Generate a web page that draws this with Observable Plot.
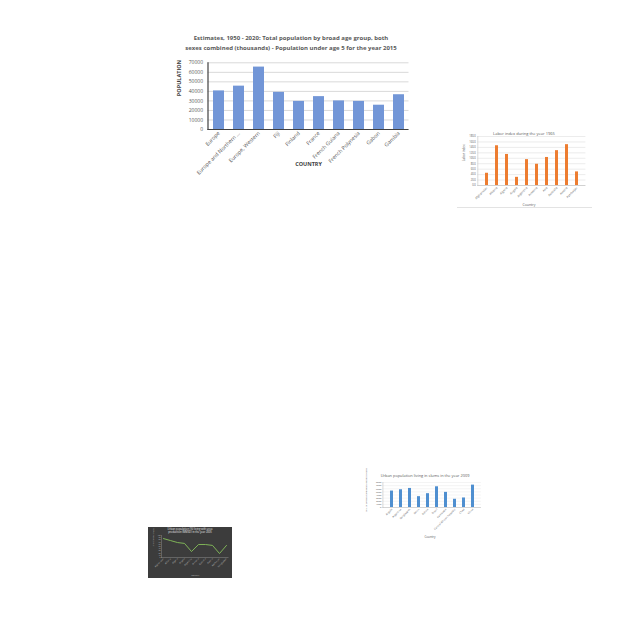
<!DOCTYPE html>
<html><head><meta charset="utf-8">
<script src="https://cdn.jsdelivr.net/npm/d3@7"></script>
<script src="https://cdn.jsdelivr.net/npm/@observablehq/plot@0.6"></script>
<style>
body{margin:0;width:640px;height:640px;background:#fff;position:relative;overflow:hidden;font-family:"Open Sans",sans-serif;}
.abs{position:absolute;}
.ttl{position:absolute;text-align:center;white-space:nowrap;transform:translateX(-50%);}
</style></head><body>
<script>
// ---- Main chart: population under age 5, 2015 ----
const popCountries = ["Europe","Europe and Northern ...","Europe, Western","Fiji","Finland","France","French Guiana","French Polynesia","Gabon","Gambia"];
const popValues = [40500,45500,65500,39000,29500,34500,30000,29500,25500,36500];
const popTicks = [0,10000,20000,30000,40000,50000,60000,70000];

// ---- Labor index 1965 ----
const laborCountries = ["Afghanistan","Albania","Algeria","Angola","Argentina","Armenia","Asia","Australia","Austria","Azerbaijan"];
const laborValues = [45,146,114,30,95,78,103,128,150,50];
const laborTicks = [0,20,40,60,80,100,120,140,160,180];

// ---- Urban population living in slums 2009 ----
const slumCountries = ["Angola","Argentina","Bangladesh","Benin","Bolivia","Brazil","Cambodia","Central African Republic","Chad","China"];
const slumValues = [5260,5680,6100,3470,4420,6630,4840,2630,3050,7160];
const slumTicks = [0,1000,2000,3000,4000,5000,6000,7000,8000];

// ---- Dark line chart ----
const darkCountries = ["Afghanistan","Albania","Algeria","Angola","Argentina","Armenia","Australia","Austria","Azerbaijan","Bangladesh"];
const darkValues = [86,77,68,64,27,59,59,55,18,55];
const darkTicks = [0,10,20,30,40,50,60,70,80,90,100];

function place(el, left, top, z) {
  const d = document.createElement("div");
  d.className = "abs";
  d.style.left = left + "px"; d.style.top = top + "px";
  if (z) d.style.zIndex = z;
  d.appendChild(el);
  document.body.appendChild(d);
  return d;
}
function title(lines, cx, top, size, weight, color, lh) {
  const d = document.createElement("div");
  d.className = "ttl";
  d.style.left = cx + "px"; d.style.top = top + "px";
  d.style.fontSize = size + "px"; d.style.fontWeight = weight; d.style.color = color;
  d.style.lineHeight = lh + "px"; d.style.zIndex = 5;
  d.innerHTML = lines.join("<br>");
  document.body.appendChild(d);
}

// Main chart
const popData = popCountries.map((c, i) => ({country: c, value: popValues[i]}));
const mainChart = Plot.plot({
  width: 250, height: 125,
  marginLeft: 37.5, marginRight: 11.5, marginTop: 7.3, marginBottom: 51,
  style: {fontFamily: "Open Sans", fontSize: "5px", color: "#595959", background: "transparent", overflow: "visible"},
  x: {domain: popCountries, paddingInner: 0.47, paddingOuter: 0.235, label: null},
  y: {domain: [0, 70000], label: null},
  marks: [
    Plot.gridY(popTicks, {stroke: "#d9d9d9", strokeOpacity: 1}),
    Plot.barY(popData, {x: "country", y: "value", fill: "#7296d7"}),
    Plot.ruleY([0], {stroke: "#404040", strokeWidth: 1.2}),
    Plot.frame({anchor: "left", stroke: "#404040", strokeWidth: 1.2}),
    Plot.axisY(popTicks, {tickSize: 0, tickPadding: 5, tickFormat: d => String(d), label: null}),
    Plot.axisX({tickSize: 0, tickRotate: -45, tickPadding: 3, label: null, fontSize: 5.3}),
    Plot.text(["POPULATION"], {text: d => d, frameAnchor: "left", rotate: -90, dx: -28.5, fontWeight: "bold", fontSize: 5.5, fill: "#404040"}),
    Plot.text(["COUNTRY"], {text: d => d, frameAnchor: "bottom", dy: 36, fontWeight: "bold", fontSize: 5.5, fill: "#404040"})
  ]
});
place(mainChart, 170, 55);
title(["Estimates, 1950 - 2020: Total population by broad age group, both",
       "sexes combined (thousands) - Population under age 5 for the year 2015"], 291, 34, 6, "bold", "#595959", 9.5);

// Labor chart
const laborData = laborCountries.map((c, i) => ({country: c, value: laborValues[i]}));
const laborChart = Plot.plot({
  width: 150, height: 85,
  marginLeft: 32.3, marginRight: 9.6, marginTop: 8, marginBottom: 28,
  style: {fontFamily: "Open Sans", fontSize: "2.6px", color: "#595959", background: "transparent", overflow: "visible"},
  x: {domain: laborCountries, paddingInner: 0.69, paddingOuter: 0.345, label: null},
  y: {domain: [0, 180], label: null},
  marks: [
    Plot.gridY(laborTicks, {stroke: "#d9d9d9", strokeOpacity: 1, strokeWidth: 0.5}),
    Plot.barY(laborData, {x: "country", y: "value", fill: "#ed7d31"}),
    Plot.ruleY([0], {stroke: "#bfbfbf", strokeWidth: 0.6}),
    Plot.frame({anchor: "left", stroke: "#bfbfbf", strokeWidth: 0.6}),
    Plot.axisY(laborTicks, {tickSize: 0, tickPadding: 2, tickFormat: d3.format(".1f"), label: null}),
    Plot.axisX({tickSize: 0, tickRotate: -45, tickPadding: 2, label: null, fontSize: 2.9}),
    Plot.text(["Labor index"], {text: d => d, frameAnchor: "left", rotate: -90, dx: -14, fontSize: 3})
  ]
});
place(laborChart, 445, 128);
title(["Labor index during the year 1965"], 524, 131, 4, "normal", "#595959", 5);
title(["Country"], 529, 201.5, 3.5, "normal", "#595959", 5);
const sep = document.createElement("div");
sep.className = "abs";
sep.style.cssText = "position:absolute;left:457px;top:207px;width:135px;height:0;border-top:0.5px solid #e3e3e3;";
document.body.appendChild(sep);

// Slums chart
const slumData = slumCountries.map((c, i) => ({country: c, value: slumValues[i]}));
const slumChart = Plot.plot({
  width: 140, height: 75,
  marginLeft: 27.4, marginRight: 14.1, marginTop: 14, marginBottom: 36,
  style: {fontFamily: "Open Sans", fontSize: "2.4px", color: "#595959", background: "transparent", overflow: "visible"},
  x: {domain: slumCountries, paddingInner: 0.72, paddingOuter: 0.36, label: null},
  y: {domain: [0, 8000], label: null},
  marks: [
    Plot.gridY(slumTicks, {stroke: "#e3e3e3", strokeOpacity: 1, strokeWidth: 0.4}),
    Plot.barY(slumData, {x: "country", y: "value", fill: "#4f8fd0"}),
    Plot.ruleY([0], {stroke: "#bfbfbf", strokeWidth: 0.6}),
    Plot.frame({anchor: "left", stroke: "#bfbfbf", strokeWidth: 0.6}),
    Plot.axisY(slumTicks, {tickSize: 0, tickPadding: 1.5, label: null, tickFormat: d => String(d)}),
    Plot.axisX({tickSize: 0, tickRotate: -45, tickPadding: 1.5, label: null, fontSize: 2.6}),
    Plot.text(["No. of Urban population living in slums"], {text: d => d, frameAnchor: "left", rotate: -90, dx: -17, dy: 16.5, fontSize: 2.4})
  ]
});
place(slumChart, 355, 468);
title(["Urban population living in slums in the year 2009"], 425, 472.5, 3.9, "normal", "#595959", 5);
title(["Country"], 430, 535, 3, "normal", "#595959", 4);

// Dark line chart
const darkData = darkCountries.map((c, i) => ({country: c, value: darkValues[i]}));
const darkChart = Plot.plot({
  width: 84, height: 51,
  marginLeft: 13, marginRight: 3.5, marginTop: 8, marginBottom: 21,
  style: {fontFamily: "Open Sans", fontSize: "1.8px", color: "#bfbfbf", background: "#3c3c3c", overflow: "visible"},
  x: {type: "point", domain: darkCountries, padding: 0.1, label: null},
  y: {domain: [0, 100], label: null},
  marks: [
    Plot.ruleY([0], {stroke: "#8c8c8c", strokeWidth: 0.5}),
    Plot.frame({anchor: "left", stroke: "#8c8c8c", strokeWidth: 0.5}),
    Plot.lineY(darkData, {x: "country", y: "value", stroke: "#86bf5a", strokeWidth: 0.9}),
    Plot.axisY(darkTicks, {tickSize: 0, tickPadding: 1, label: null}),
    Plot.axisX({tickSize: 0, tickRotate: -45, tickPadding: 1, label: null, fontSize: 2.2}),
    Plot.text(["Urban population (%)"], {text: d => d, frameAnchor: "left", rotate: -90, dx: -8, fontSize: 1.8, fill: "#bfbfbf"}),
    Plot.text(["Country"], {text: d => d, frameAnchor: "bottom", dy: 18, fontSize: 2.2, fill: "#bfbfbf"})
  ]
});
place(darkChart, 148, 527);
title(["Urban population (%) living with urea", "production (MMSD) in the year 2005"], 190, 527.5, 2.6, "normal", "#e6e6e6", 3.2);
</script>
</body></html>
